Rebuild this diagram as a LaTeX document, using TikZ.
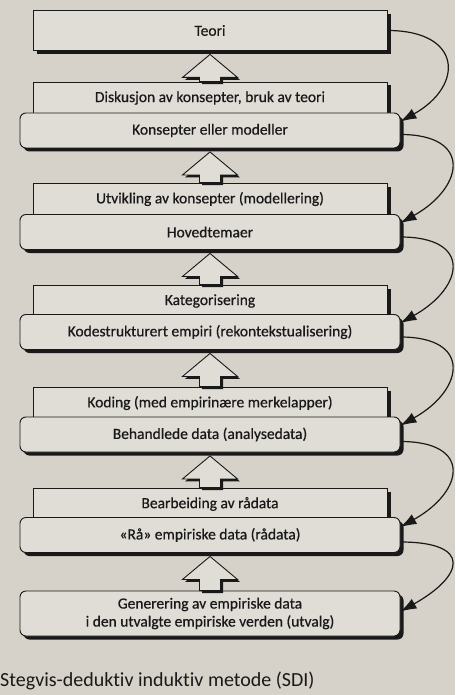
\documentclass[tikz,border=0pt]{standalone}
\usepackage{fontspec}
\setmainfont{Carlito}[Ligatures=NoCommon]
\newfontfamily\printfont{Carlito}[Ligatures=NoCommon, FakeBold=0.6]
\usetikzlibrary{calc,shadows,arrows.meta}

\definecolor{paper}{RGB}{214,210,202}
\definecolor{boxfill}{RGB}{224,221,214}
\definecolor{ink}{RGB}{25,25,25}

\tikzset{
	phasebar/.style={draw=ink, line width=0.9pt, fill=boxfill, text=ink,
		minimum width=354pt, minimum height=32pt,
		font=\printfont\fontsize{15.5}{18}\selectfont,
		drop shadow={shadow xshift=3.5pt, shadow yshift=-3.5pt, opacity=1, fill=ink}},
	phasebox/.style={phasebar, rounded corners=6pt, minimum width=380pt, minimum height=35pt},
	liftarrow/.style={draw=ink, line width=0.9pt, fill=boxfill,
		drop shadow={shadow xshift=2.5pt, shadow yshift=-2.5pt, opacity=1, fill=ink}},
	feedback/.style={draw=ink, line width=1.2pt, -{Latex[length=16pt,width=11pt]}}
}

\begin{document}
\begin{tikzpicture}[x=1pt, y=1pt]
		\fill[paper] (0,0) rectangle (455,-695);
		\useasboundingbox (0,0) rectangle (455,-695);

		\node[phasebar, minimum height=40pt] (teori) at (210,-30.5) {Teori};

		\node[phasebar] (diskusjon) at (210,-98) {Diskusjon av konsepter, bruk av teori};
		\node[phasebox] (konsepter) at (210,-130.5) {Konsepter eller modeller};

		\node[phasebar] (utvikling) at (210,-199) {Utvikling av konsepter (modellering)};
		\node[phasebox] (hovedtemaer) at (210,-232) {Hovedtemaer};

		\node[phasebar] (kategorisering) at (210,-301) {Kategorisering};
		\node[phasebox] (kodestrukturert) at (210,-332) {Kodestrukturert empiri (rekontekstualisering)};

		\node[phasebar] (koding) at (210,-403) {Koding (med empirinære merkelapper)};
		\node[phasebox] (behandlede) at (210,-434.5) {Behandlede data (analysedata)};

		\node[phasebar] (bearbeiding) at (210,-504) {Bearbeiding av rådata};
		\node[phasebox] (raadata) at (210,-535) {«Rå» empiriske data (rådata)};

		\node[phasebox, minimum height=45pt, align=center] (generering) at (210,-613.5)
		{Generering av empiriske data\\ i den utvalgte empiriske verden (utvalg)};

		% hollow arrows up between the levels
		\foreach \upper/\lower in {teori/diskusjon, konsepter/utvikling,
			hovedtemaer/kategorisering, kodestrukturert/koding,
			behandlede/bearbeiding, raadata/generering}
		{
			\draw[liftarrow] ($(\upper.south)+(0,-3.5)$) --
			++ (27.5,-23) --
			++ (-17,0) --
			($(\lower.north)+(10.5,0)$) --
			($(\lower.north)+(-10.5,0)$) --
			($(\upper.south)+(-10.5,-26.5)$) --
			++ (-17,0) --
			cycle;
		}

		% curved arrows on the right
		\draw[feedback] (teori.east) .. controls +(75,0) and +(64,36) .. ([yshift=-9pt]konsepter.north east);
		\draw[feedback] ([yshift=-4pt]konsepter.east) .. controls +(72,0) and +(64,36) .. ([yshift=-9pt]hovedtemaer.north east);
		\draw[feedback] ([yshift=-5pt]hovedtemaer.east) .. controls +(72,0) and +(64,36) .. ([yshift=-9pt]kodestrukturert.north east);
		\draw[feedback] ([yshift=-5pt]kodestrukturert.east) .. controls +(72,0) and +(64,36) .. ([yshift=-9pt]behandlede.north east);
		\draw[feedback] ([yshift=-7pt]behandlede.east) .. controls +(72,0) and +(64,36) .. ([yshift=-10pt]raadata.north east);
		\draw[feedback] ([yshift=-7pt]raadata.east) .. controls +(72,0) and +(64,36) .. ([yshift=-21pt]generering.north east);

		\node[anchor=west, inner sep=0pt, text=ink, font=\fontsize{20}{24}\selectfont] (caption) at (0,-681)
		{Stegvis-deduktiv induktiv metode (SDI)};
	\end{tikzpicture}
\end{document}
